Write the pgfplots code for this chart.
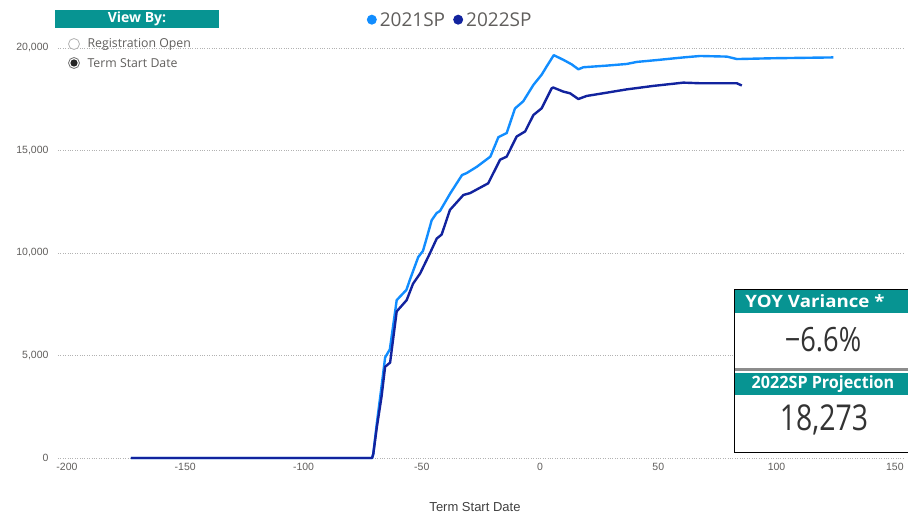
\documentclass[border=0pt]{standalone}
\usepackage{pgfplots}
\pgfplotsset{compat=1.18}
\usepackage{fontspec}
\setmainfont{Open Sans}
\newfontfamily\lib{Liberation Sans}
\definecolor{c21}{HTML}{118DFF}
\definecolor{c22}{HTML}{12239E}
\definecolor{tealh}{HTML}{079492}
\definecolor{txt}{HTML}{605E5C}
\begin{document}
\begin{tikzpicture}[x=1pt,y=1pt]
\useasboundingbox (0,0) rectangle (908,519);
\begin{axis}[
  at={(58pt,59pt)}, anchor=south west, scale only axis,
  width=847pt, height=420pt,
  xmin=-203.8, xmax=154.3, ymin=-98, ymax=20390,
  axis line style={draw=none}, tick style={draw=none},
  ymajorgrids, grid style={dotted, black!30, line width=0.9pt},
  ytick={0,5000,10000,15000,20000},
  xtick={-200,-150,-100,-50,0,50,100,150},
  scaled y ticks=false,
  /pgf/number format/assume math mode=true,
  /pgf/number format/1000 sep={,},
  ticklabel style={font=\lib\fontsize{10.5}{12}\selectfont, text=txt},
  yticklabel style={xshift=-6pt},
  xticklabel style={yshift=0pt},
  legend style={at={(0.463,1.046)}, anchor=center, draw=none, fill=none,
    font=\fontsize{19}{22}\selectfont, text=txt,
    /tikz/every even column/.append style={column sep=6pt}},
  legend columns=2,
  legend image code/.code={\fill[#1, draw=none] (0pt,1pt) circle (5pt); \path[draw=none, fill=none] (-5pt,0pt) -- (6pt,0pt);},
]
\addplot[c21, line width=2.4pt, line join=round] coordinates {
(-173,0) (-71,0) (-70.5,200) (-69,1700) (-67,3500) (-65.5,4900) (-63.5,5300)
(-60.6,7700) (-56.5,8200) (-55,8700) (-51.5,9800) (-49.5,10100) (-48,10700)
(-45.8,11600) (-43.7,11950) (-42.3,12050) (-38,12900) (-33,13800) (-31,13900)
(-26.8,14200) (-21,14700) (-17.6,15650) (-14.1,15850) (-10.6,17050) (-7.1,17400)
(-2.8,18200) (0.7,18700) (2.8,19100) (5.8,19650) (9.9,19420) (13.4,19200)
(16.2,18960) (18.3,19060) (28.2,19140) (36.6,19220) (40.9,19320) (49.3,19410)
(60.6,19540) (67.7,19610) (79,19580) (83.2,19460) (98.6,19500) (124,19540)
};
\addlegendentry{2021SP}
\addplot[c22, line width=2.4pt, line join=round] coordinates {
(-173,0) (-71,0) (-70.5,200) (-69,1500) (-67,3000) (-65.5,4450) (-63.4,4650)
(-60.6,7150) (-56.4,7700) (-53.7,8500) (-50.7,9000) (-46.5,10000) (-43.7,10700)
(-41.6,10900) (-38.1,12100) (-32.4,12830) (-29.6,12920) (-21.9,13400)
(-16.9,14550) (-14.1,14700) (-9.9,15680) (-6.3,15930) (-2.8,16730) (0.7,17060)
(4.9,18030) (5.6,18070) (9.9,17870) (12.7,17790) (16.2,17510) (19.7,17660)
(28.2,17820) (36.6,17980) (47.9,18150) (60.6,18310) (67.7,18280) (83.2,18280)
(85.3,18170)
};
\addlegendentry{2022SP}
\end{axis}
% x label
\node[font=\lib\fontsize{13}{15}\selectfont, text=black!75] at (475,12) {Term Start Date};
% View By slicer
\fill[tealh] (55,491) rectangle (219,509);
\node[font=\bfseries\fontsize{14}{16}\selectfont, text=white] at (137,500) {View By:};
\draw[black!30, line width=0.8pt, fill=white] (74,475) circle (5.5);
\node[anchor=west, font=\fontsize{12.3}{14}\selectfont, text=txt] at (84,475) {Registration Open};
\draw[black!55, line width=0.8pt, fill=white] (74,456) circle (5.5);
\fill[black!85] (74,456) circle (3.6);
\node[anchor=west, font=\fontsize{12.3}{14}\selectfont, text=txt] at (84,456) {Term Start Date};
% cards
\fill[white] (734,67) rectangle (908,230);
\fill[tealh] (735,206) rectangle (908,229.5);
\node[font=\bfseries\fontsize{17}{19}\selectfont, text=white] at (815,218) {\scalebox{1.1}[1]{YOY Variance *}};
\node[font=\fontsize{31}{36}\selectfont, text=black!80] at (823,179) {\scalebox{0.88}[1.08]{−6.6\%}};
\fill[black!45] (734,148) rectangle (908,151);
\fill[tealh] (735,124) rectangle (908,146);
\node[font=\bfseries\fontsize{17}{19}\selectfont, text=white] at (823,135) {\scalebox{0.95}[1]{2022SP Projection}};
\node[font=\fontsize{33}{38}\selectfont, text=black!80] at (824,99) {\scalebox{0.86}[1.08]{18,273}};
\draw[black, line width=0.8pt] (908,230) -- (734.5,230) -- (734.5,67) -- (908,67);
\end{tikzpicture}
\end{document}
